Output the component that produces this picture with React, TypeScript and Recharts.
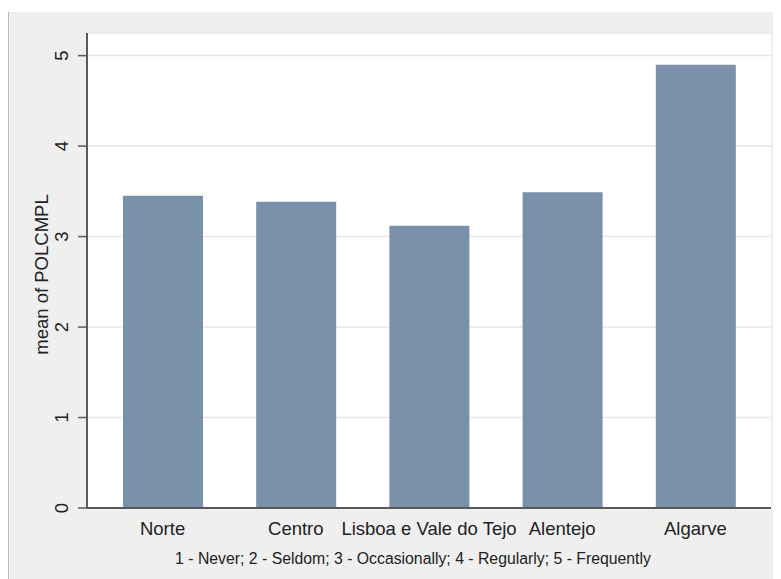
import React from "react";
import { BarChart, Bar, XAxis, YAxis, CartesianGrid } from "recharts";

const regions = ["Norte", "Centro", "Lisboa e Vale do Tejo", "Alentejo", "Algarve"];
const meanPolcmpl = [3.45, 3.385, 3.12, 3.49, 4.9];
const yTicks = [0, 1, 2, 3, 4, 5];
const yTitle = "mean of POLCMPL";
const footnote = "1 - Never; 2 - Seldom; 3 - Occasionally; 4 - Regularly; 5 - Frequently";

const data = regions.map((r, i) => ({ region: r, value: meanPolcmpl[i] }));

const FONT = "'Liberation Sans', Arial, Helvetica, sans-serif";

const YTick = (props: any) => {
  const { x, y, payload } = props;
  const bx = x - 10;
  return (
    <text
      x={bx}
      y={y}
      transform={`rotate(-90, ${bx}, ${y})`}
      textAnchor="middle"
      fontFamily={FONT}
      fontSize={18.5}
      fill="#222"
    >
      {payload.value}
    </text>
  );
};

const XTick = (props: any) => {
  const { x, y, payload } = props;
  return (
    <text x={x} y={y + 27} textAnchor="middle" fontFamily={FONT} fontSize={18.5} fill="#222">
      {payload.value}
    </text>
  );
};

export default function App() {
  return (
    <div
      style={{
        position: "relative",
        width: 773,
        height: 567,
        marginTop: 4,
        background: "#efefef",
      }}
    >
      <div
        style={{
          position: "absolute",
          left: 0,
          top: 0,
          width: 1,
          height: 567,
          background: "#b8b8b8",
        }}
      />
      <BarChart
        width={773}
        height={567}
        data={data}
        margin={{ top: 21, right: 10, left: 0, bottom: 0 }}
        barSize={80}
      >
        <CartesianGrid horizontal vertical={false} fill="#ffffff" stroke="#e6e6e6" strokeWidth={1.5} />
        <XAxis
          dataKey="region"
          height={71}
          padding={{ left: 9, right: 9 }}
          tickLine={false}
          tickSize={0}
          tickMargin={0}
          axisLine={{ stroke: "#5a5a5a", strokeWidth: 2 }}
          tick={<XTick />}
          interval={0}
          label={{
            content: (p: any) => (
              <text x={405} y={552} textAnchor="middle" fontFamily={FONT} fontSize={15.8} fill="#222">
                {footnote}
              </text>
            ),
          }}
        />
        <YAxis
          width={79}
          domain={[0, 5.25]}
          ticks={yTicks}
          tickSize={9}
          tickMargin={0}
          axisLine={{ stroke: "#5a5a5a", strokeWidth: 2 }}
          tickLine={{ stroke: "#5a5a5a", strokeWidth: 1.5 }}
          tick={<YTick />}
          label={{
            content: (p: any) => {
              const vb = p.viewBox || { x: 0, y: 21, width: 79, height: 475 };
              const cx = 40;
              const cy = vb.y + vb.height / 2 + 4;
              return (
                <text
                  x={cx}
                  y={cy}
                  transform={`rotate(-90, ${cx}, ${cy})`}
                  textAnchor="middle"
                  fontFamily={FONT}
                  fontSize={18.5}
                  fill="#222"
                >
                  {yTitle}
                </text>
              );
            },
          }}
        />
        <Bar dataKey="value" fill="#7a91a9" isAnimationActive={false} />
      </BarChart>
    </div>
  );
}
